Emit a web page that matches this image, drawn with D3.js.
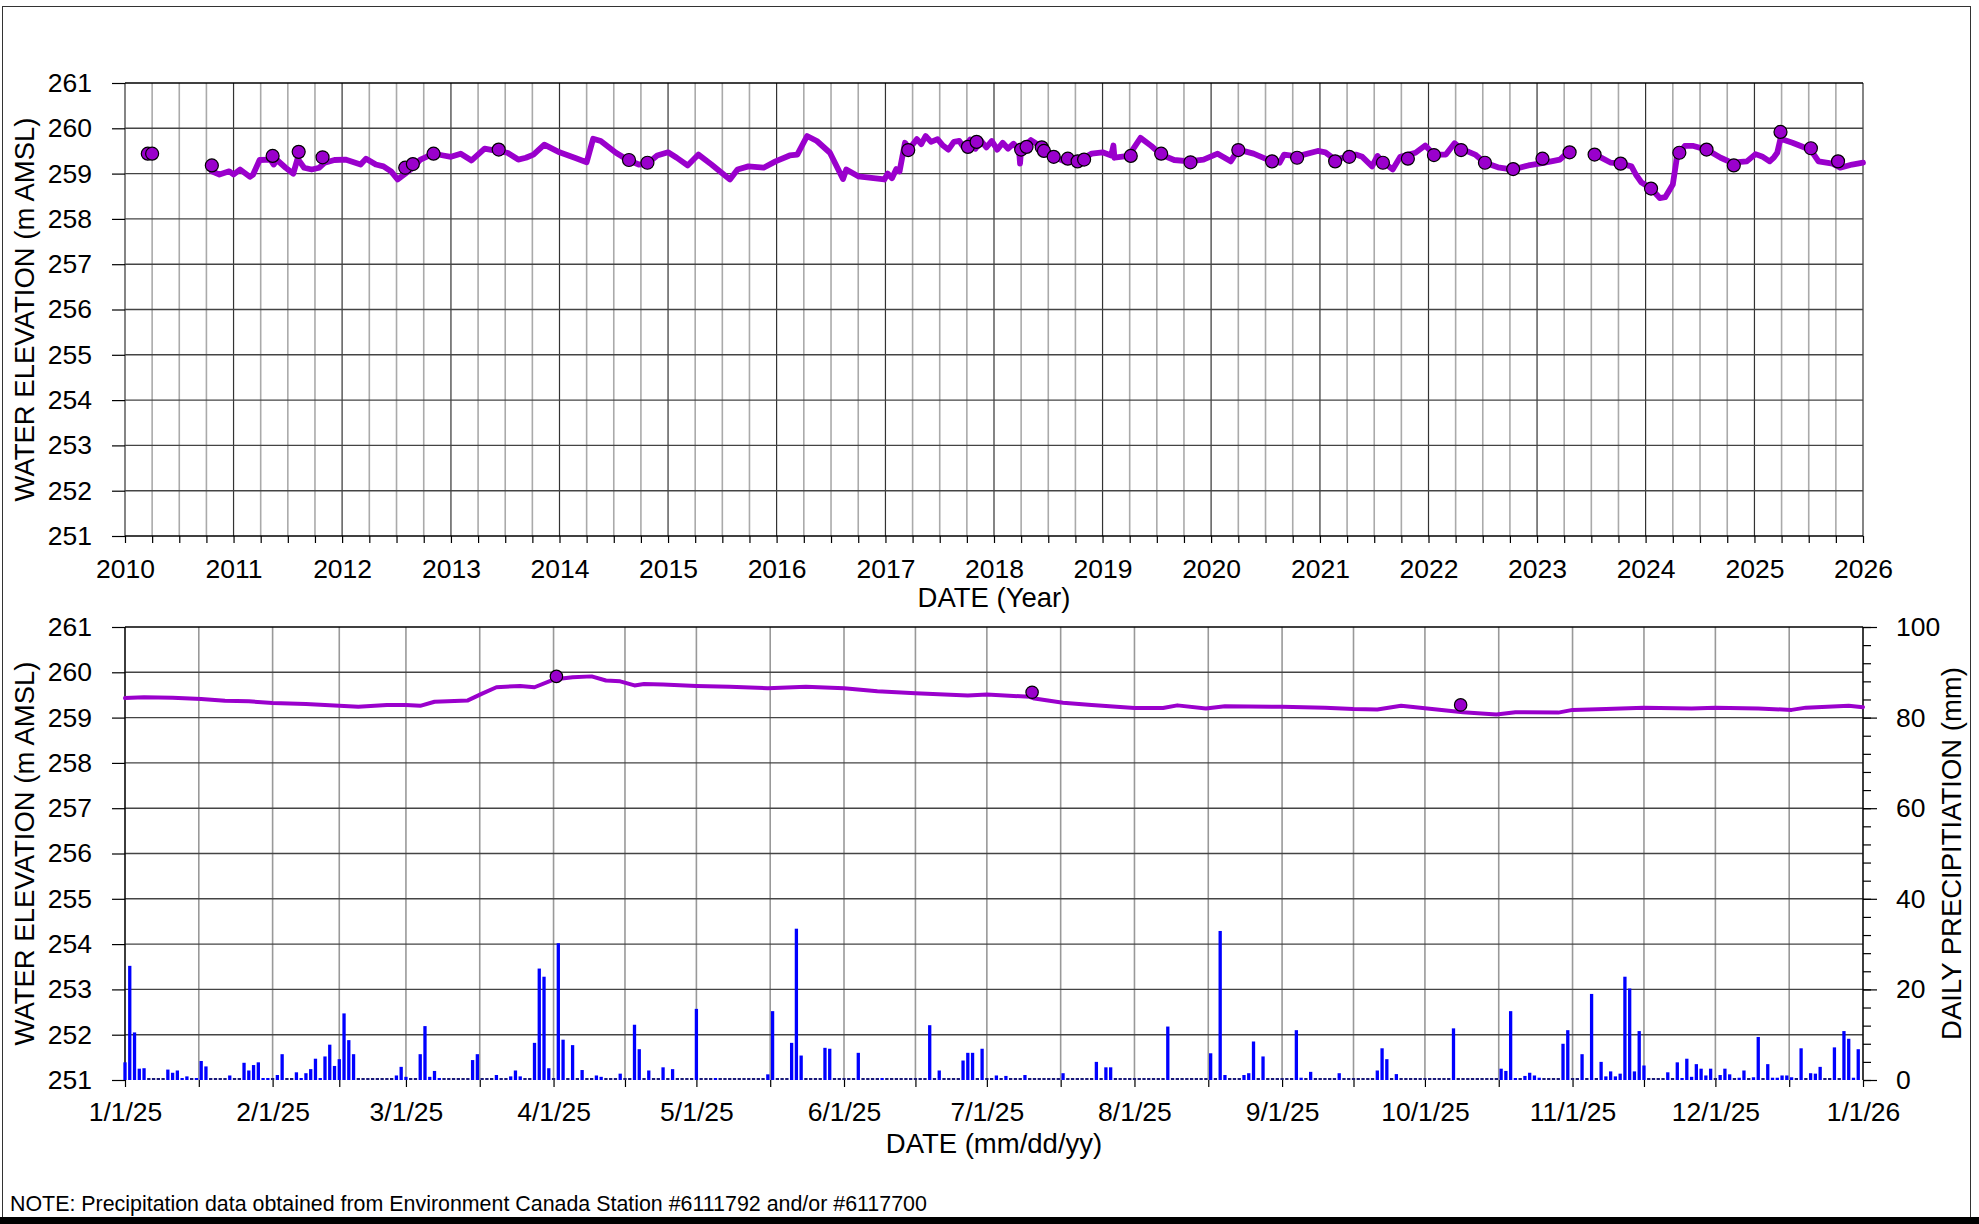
<!DOCTYPE html>
<html>
<head>
<meta charset="utf-8">
<script src="https://d3js.org/d3.v7.min.js"></script>
<style>
body { margin: 0; background: #fff; }
svg { display: block; font-family: "Liberation Sans", Arial, sans-serif; }
</style>
</head>
<body>
<script>
// ---- data ----
// logger water level, long record (decimal year, m AMSL); null = gap in record
var longLevel = [
  [2010.80,259.05],[2010.87,258.98],[2010.96,259.05],[2011.00,258.98],[2011.06,259.09],[2011.15,258.93],
  [2011.18,258.98],[2011.24,259.30],[2011.34,259.31],[2011.37,259.20],[2011.40,259.30],[2011.48,259.13],
  [2011.55,259.00],[2011.59,259.33],[2011.65,259.13],[2011.72,259.09],[2011.79,259.13],[2011.84,259.24],
  [2011.93,259.30],[2012.03,259.31],[2012.17,259.20],[2012.22,259.33],[2012.31,259.20],[2012.38,259.16],
  [2012.45,259.05],[2012.51,258.87],[2012.58,259.00],[2012.65,259.13],[2012.72,259.31],[2012.84,259.44],
  [2012.93,259.40],[2013.00,259.37],[2013.09,259.44],[2013.19,259.29],[2013.31,259.55],[2013.42,259.50],
  [2013.52,259.46],[2013.62,259.31],[2013.69,259.35],[2013.76,259.42],[2013.86,259.64],[2014.00,259.47],
  [2014.14,259.35],[2014.25,259.25],[2014.31,259.77],[2014.38,259.72],[2014.52,259.46],[2014.63,259.30],
  [2014.73,259.20],[2014.81,259.22],[2014.90,259.40],[2015.00,259.47],[2015.08,259.35],[2015.18,259.18],
  [2015.28,259.42],[2015.40,259.20],[2015.57,258.87],[2015.64,259.09],[2015.74,259.16],[2015.88,259.13],
  [2015.99,259.27],[2016.12,259.40],[2016.19,259.42],[2016.28,259.83],[2016.37,259.72],[2016.49,259.46],
  [2016.61,258.88],[2016.64,259.09],[2016.75,258.94],[2016.89,258.90],[2016.99,258.87],[2017.02,259.00],
  [2017.06,258.90],[2017.10,259.10],[2017.13,259.05],[2017.18,259.68],[2017.22,259.55],[2017.29,259.76],
  [2017.33,259.65],[2017.37,259.83],[2017.42,259.70],[2017.48,259.76],[2017.53,259.62],[2017.58,259.53],
  [2017.63,259.70],[2017.68,259.72],[2017.72,259.58],[2017.78,259.75],[2017.83,259.55],[2017.88,259.72],
  [2017.93,259.58],[2017.98,259.72],[2018.03,259.53],[2018.08,259.68],[2018.13,259.55],[2018.18,259.66],
  [2018.23,259.53],[2018.24,259.22],[2018.25,259.55],[2018.34,259.74],[2018.45,259.57],[2018.55,259.37],
  [2018.65,259.27],[2018.77,259.27],[2018.90,259.44],[2019.00,259.47],[2019.08,259.40],[2019.10,259.62],
  [2019.11,259.35],[2019.24,259.39],[2019.35,259.79],[2019.45,259.61],[2019.54,259.42],[2019.66,259.30],
  [2019.80,259.27],[2019.93,259.31],[2020.06,259.44],[2020.18,259.27],[2020.25,259.53],[2020.39,259.44],
  [2020.52,259.31],[2020.63,259.24],[2020.67,259.42],[2020.79,259.38],[2020.98,259.50],[2021.05,259.47],
  [2021.14,259.31],[2021.33,259.42],[2021.39,259.37],[2021.48,259.16],[2021.53,259.39],[2021.58,259.26],
  [2021.67,259.09],[2021.74,259.37],[2021.88,259.46],[2021.97,259.62],[2022.05,259.42],[2022.16,259.42],
  [2022.24,259.67],[2022.30,259.55],[2022.43,259.42],[2022.52,259.24],[2022.64,259.14],[2022.78,259.09],
  [2022.92,259.18],[2023.02,259.22],[2023.13,259.27],[2023.21,259.31],[2023.28,259.46],[2023.30,259.47],
  null,
  [2023.56,259.39],[2023.68,259.24],[2023.77,259.22],[2023.87,259.16],[2023.91,258.98],[2023.96,258.81],
  [2024.05,258.67],[2024.13,258.46],[2024.18,258.48],[2024.25,258.76],[2024.29,259.39],[2024.36,259.61],
  [2024.44,259.61],[2024.56,259.53],[2024.69,259.35],[2024.79,259.24],[2024.93,259.27],[2025.01,259.43],
  [2025.07,259.38],[2025.14,259.27],[2025.18,259.36],[2025.21,259.46],[2025.24,259.77],[2025.35,259.68],
  [2025.52,259.52],[2025.59,259.27],[2025.72,259.22],[2025.79,259.13],[2025.90,259.20],[2026.00,259.24]
];

// manual measurements, long record (decimal year, m AMSL)
var longManual = [
  [2010.21,259.44],[2010.25,259.44],[2010.80,259.18],[2011.36,259.39],[2011.60,259.48],[2011.82,259.36],
  [2012.58,259.13],[2012.65,259.21],[2012.84,259.44],[2013.44,259.53],[2014.64,259.30],[2014.81,259.24],
  [2017.21,259.52],[2017.76,259.59],[2017.84,259.70],[2018.25,259.53],[2018.30,259.59],[2018.44,259.58],
  [2018.46,259.50],[2018.55,259.37],[2018.68,259.33],[2018.77,259.27],[2018.83,259.31],[2019.26,259.39],
  [2019.54,259.44],[2019.81,259.25],[2020.25,259.52],[2020.56,259.27],[2020.79,259.35],[2021.14,259.27],
  [2021.27,259.37],[2021.58,259.24],[2021.81,259.33],[2022.05,259.41],[2022.30,259.52],[2022.52,259.24],
  [2022.78,259.10],[2023.05,259.33],[2023.30,259.47],[2023.53,259.42],[2023.77,259.22],[2024.05,258.67],
  [2024.31,259.46],[2024.56,259.53],[2024.81,259.18],[2025.24,259.92],[2025.52,259.56],[2025.77,259.27]
];

// 2025 logger water level (day of year from Jan 1, m AMSL)
var level2025 = [
  [0,259.43],[4,259.45],[10,259.44],[16,259.41],[21,259.37],[26,259.36],[31,259.32],[38,259.30],
  [45,259.26],[49,259.24],[55,259.28],[59,259.28],[62,259.26],[65,259.35],[72,259.38],[75,259.53],
  [78,259.67],[83,259.70],[86,259.67],[90,259.84],[94,259.89],[98,259.91],[101,259.82],[104,259.80],
  [107,259.71],[109,259.74],[113,259.73],[120,259.70],[127,259.68],[135,259.65],[143,259.68],[151,259.65],
  [158,259.58],[166,259.54],[177,259.49],[181,259.51],[190,259.46],[191,259.42],[197,259.33],[203,259.28],
  [212,259.21],[218,259.21],[221,259.27],[227,259.20],[231,259.25],[243,259.24],[252,259.22],[258,259.19],
  [263,259.18],[268,259.26],[272,259.22],[278,259.15],[281,259.12],[288,259.07],[292,259.12],[301,259.11],
  [304,259.17],[311,259.19],[319,259.22],[329,259.20],[334,259.22],[343,259.20],[350,259.17],[353,259.22],
  [362,259.26],[365,259.23]
];

// 2025 manual measurements (day of year, m AMSL)
var manual2025 = [[90.6,259.91],[190.5,259.56],[280.5,259.28]];

// 2025 daily precipitation, days with rain (day of year, mm); other days are 0
var rainDays = [
  [0,3.9],[1,25.2],[2,10.5],[3,2.5],[4,2.6],[9,2.3],[10,1.6],[11,2.1],[12,0.4],[13,0.8],[15,0.4],[16,4.2],
  [17,3.0],[22,1.0],[25,3.8],[26,2.1],[27,3.3],[28,3.9],[29,0.1],[30,0.4],[32,1.1],[33,5.7],[36,1.7],[37,0.4],
  [38,1.5],[39,2.4],[40,4.7],[41,0.4],[42,5.2],[43,7.8],[44,3.1],[45,4.6],[46,14.7],[47,8.8],[48,5.7],[57,1.0],
  [58,2.9],[59,0.7],[62,5.7],[63,11.9],[64,0.7],[65,2.0],[66,0.4],[73,4.4],[74,5.7],[78,1.1],[81,0.8],[82,2.1],
  [83,0.8],[86,8.2],[87,24.6],[88,22.8],[89,2.6],[91,30.2],[92,8.9],[94,7.7],[96,2.2],[99,1.0],[100,0.7],
  [104,1.4],[107,12.2],[108,6.8],[110,2.1],[113,2.8],[115,2.4],[120,15.7],[124,0.2],[135,1.25],[136,15.2],
  [140,8.2],[141,33.4],[142,5.4],[147,7.1],[148,6.9],[154,6.0],[159,0.3],[169,12.1],[171,2.1],[176,4.3],
  [177,6.0],[178,6.0],[180,6.9],[183,1.0],[185,0.9],[189,1.1],[197,1.5],[204,4.0],[206,2.8],[207,2.8],
  [219,11.8],[228,5.9],[230,32.9],[231,1.1],[235,1.1],[236,1.5],[237,8.5],[239,5.2],[246,11.0],[247,0.5],
  [249,1.8],[255,1.5],[263,2.1],[264,7.0],[265,4.6],[267,1.3],[279,11.4],[289,2.5],[290,2.0],[291,15.2],
  [292,0.3],[294,0.9],[295,1.6],[296,1.0],[297,0.5],[302,8.0],[303,11.0],[306,5.7],[308,19.0],[310,4.0],
  [311,0.8],[312,1.9],[313,0.8],[314,1.4],[315,22.8],[316,20.2],[317,1.9],[318,10.8],[319,3.2],[324,1.7],
  [326,3.9],[327,0.4],[328,4.7],[329,0.7],[330,3.5],[331,2.5],[332,1.0],[333,2.5],[335,1.1],[336,2.5],
  [337,1.25],[339,0.5],[340,2.1],[342,0.6],[343,9.5],[345,3.5],[346,0.5],[347,0.5],[348,1.0],[349,1.0],
  [350,0.6],[352,7.0],[354,1.5],[355,1.4],[356,2.9],[359,7.2],[361,10.8],[362,9.1],[363,0.5],[364,6.8]
];

var elevTicks = [251, 252, 253, 254, 255, 256, 257, 258, 259, 260, 261];
var rainTicks = [0, 20, 40, 60, 80, 100];
var yearTicks = [2010, 2011, 2012, 2013, 2014, 2015, 2016, 2017, 2018, 2019, 2020, 2021, 2022, 2023, 2024, 2025, 2026];
var noteText = "NOTE: Precipitation data obtained from Environment Canada Station #6111792 and/or #6117700";

// ---- layout ----
var W = 1979, H = 1224;
var plotL = 125, plotR = 1863;
var topY0 = 83, topY1 = 536;
var botY0 = 627, botY1 = 1080;
var purple = "#9a00cc";
var tickFont = 26.5;
var titleFont = 27.5;

var decYear = function(y){
    var yr = Math.floor(y);
    var a = Date.UTC(yr, 0, 1), b = Date.UTC(yr + 1, 0, 1);
    return new Date(a + (y - yr) * (b - a));
};
var dayDate = function(d){
    return new Date(Date.UTC(2025, 0, 1) + d * 864e5);
};

var svg = d3.select("body").append("svg")
    .attr("width", W).attr("height", H);

// outer frame
svg.append("rect").attr("x", 2.5).attr("y", 6.5).attr("width", 1968).attr("height", 1212)
    .attr("fill", "none").attr("stroke", "#333").attr("stroke-width", 1);
svg.append("rect").attr("x", 0).attr("y", 1217).attr("width", W).attr("height", 7).attr("fill", "#000");

// ================= top panel =================
var xTop = d3.scaleUtc().domain([decYear(2010), decYear(2026)]).range([plotL, plotR]);
var yTop = d3.scaleLinear().domain([251, 261]).range([topY1, topY0]);

var gTop = svg.append("g");

var quarters = [];
for(var q = 2010; q < 2026; q += 0.25){
    if(q % 1 !== 0){ quarters.push(q); }
}
gTop.selectAll(".qgrid").data(quarters).enter().append("line")
    .attr("x1", function(d){ return xTop(decYear(d)); })
    .attr("x2", function(d){ return xTop(decYear(d)); })
    .attr("y1", topY0).attr("y2", topY1)
    .attr("stroke", "#aaa").attr("stroke-width", 1.6);
gTop.selectAll(".ygrid").data(yearTicks).enter().append("line")
    .attr("x1", function(d){ return xTop(decYear(d)); })
    .attr("x2", function(d){ return xTop(decYear(d)); })
    .attr("y1", topY0).attr("y2", topY1)
    .attr("stroke", "#333").attr("stroke-width", 1.2);
gTop.selectAll(".hgrid").data(elevTicks).enter().append("line")
    .attr("x1", plotL).attr("x2", plotR)
    .attr("y1", function(d){ return yTop(d); })
    .attr("y2", function(d){ return yTop(d); })
    .attr("stroke", function(d){ return (d === 251 || d === 261) ? "#000" : "#444"; })
    .attr("stroke-width", 1.4);

var axTopY = gTop.append("g").attr("transform", "translate(" + plotL + ",0)")
    .call(d3.axisLeft(yTop).tickValues(elevTicks).tickFormat(d3.format("d")).tickSize(13).tickPadding(20));
var axTopXMinor = gTop.append("g").attr("transform", "translate(0," + topY1 + ")")
    .call(d3.axisBottom(xTop).tickValues(quarters.map(decYear)).tickFormat("").tickSize(7));
var axTopX = gTop.append("g").attr("transform", "translate(0," + topY1 + ")")
    .call(d3.axisBottom(xTop).tickValues(yearTicks.map(decYear)).tickFormat(d3.utcFormat("%Y")).tickSize(7).tickPadding(16));

gTop.append("text").attr("x", (plotL + plotR) / 2).attr("y", 607)
    .attr("text-anchor", "middle").attr("font-size", titleFont).text("DATE (Year)");
gTop.append("text").attr("transform", "translate(34," + ((topY0 + topY1) / 2) + ") rotate(-90)")
    .attr("text-anchor", "middle").attr("font-size", titleFont).text("WATER ELEVATION (m AMSL)");

var lineTop = d3.line()
    .defined(function(d){ return d !== null; })
    .x(function(d){ return xTop(decYear(d[0])); })
    .y(function(d){ return yTop(d[1]); });
gTop.append("path").datum(longLevel).attr("d", lineTop)
    .attr("fill", "none").attr("stroke", purple).attr("stroke-width", 5.8)
    .attr("stroke-linejoin", "round").attr("stroke-linecap", "round");
gTop.selectAll(".mdot").data(longManual).enter().append("circle")
    .attr("cx", function(d){ return xTop(decYear(d[0])); })
    .attr("cy", function(d){ return yTop(d[1]); })
    .attr("r", 6.5).attr("fill", purple).attr("stroke", "#000").attr("stroke-width", 1.2);

// ================= bottom panel =================
var xBot = d3.scaleUtc().domain([dayDate(0), dayDate(365)]).range([plotL, plotR]);
var yBot = d3.scaleLinear().domain([251, 261]).range([botY1, botY0]);
var yRain = d3.scaleLinear().domain([0, 100]).range([botY1, botY0]);

var gBot = svg.append("g");

var months = d3.utcMonth.range(dayDate(0), dayDate(366));
var midMonths = [];
for(var m = 0; m < months.length - 1; m++){
    midMonths.push(new Date((+months[m] + +months[m + 1]) / 2));
}
var allMonthLines = months.concat(midMonths);

gBot.selectAll(".vgrid").data(allMonthLines).enter().append("line")
    .attr("x1", function(d){ return xBot(d); })
    .attr("x2", function(d){ return xBot(d); })
    .attr("y1", botY0).attr("y2", botY1)
    .attr("stroke", "#999").attr("stroke-width", 1.6);
gBot.selectAll(".hgrid").data(elevTicks.slice(1)).enter().append("line")
    .attr("x1", plotL).attr("x2", plotR)
    .attr("y1", function(d){ return yBot(d); })
    .attr("y2", function(d){ return yBot(d); })
    .attr("stroke", function(d){ return d === 261 ? "#000" : "#444"; })
    .attr("stroke-width", 1.4);
gBot.append("line").attr("x1", plotL).attr("x2", plotL).attr("y1", botY0).attr("y2", botY1)
    .attr("stroke", "#000").attr("stroke-width", 1.3);
gBot.append("line").attr("x1", plotR).attr("x2", plotR).attr("y1", botY0).attr("y2", botY1)
    .attr("stroke", "#000").attr("stroke-width", 1.3);

var axBotY = gBot.append("g").attr("transform", "translate(" + plotL + ",0)")
    .call(d3.axisLeft(yBot).tickValues(elevTicks).tickFormat(d3.format("d")).tickSize(13).tickPadding(20));
var axBotX = gBot.append("g").attr("transform", "translate(0," + botY1 + ")")
    .call(d3.axisBottom(xBot).tickValues(months).tickFormat(d3.utcFormat("%-m/%-d/%y")).tickSize(7).tickPadding(15.5));
var axBotXMinor = gBot.append("g").attr("transform", "translate(0," + botY1 + ")")
    .call(d3.axisBottom(xBot).tickValues(midMonths).tickFormat("").tickSize(7));
var axRainMinor = gBot.append("g").attr("transform", "translate(" + plotR + ",0)")
    .call(d3.axisRight(yRain).tickValues(d3.range(0, 101, 4)).tickFormat("").tickSize(8));
var axRain = gBot.append("g").attr("transform", "translate(" + plotR + ",0)")
    .call(d3.axisRight(yRain).tickValues(rainTicks).tickFormat(d3.format("d")).tickSize(14).tickPadding(19));

gBot.append("text").attr("x", (plotL + plotR) / 2).attr("y", 1153)
    .attr("text-anchor", "middle").attr("font-size", titleFont).text("DATE (mm/dd/yy)");
gBot.append("text").attr("transform", "translate(34," + ((botY0 + botY1) / 2) + ") rotate(-90)")
    .attr("text-anchor", "middle").attr("font-size", titleFont).text("WATER ELEVATION (m AMSL)");
gBot.append("text").attr("transform", "translate(1961," + ((botY0 + botY1) / 2) + ") rotate(-90)")
    .attr("text-anchor", "middle").attr("font-size", titleFont).text("DAILY PRECIPITIATION (mm)");

// daily rain bars (every day drawn, dry days as a dash on the baseline)
var rainLookup = {};
rainDays.forEach(function(d){ rainLookup[d[0]] = d[1]; });
var daily = d3.range(0, 365).map(function(d){ return {day: d, mm: rainLookup[d] || 0}; });
var barW = 3.3;
gBot.selectAll(".bar").data(daily).enter().append("rect")
    .attr("x", function(d){ return xBot(dayDate(d.day)) - barW / 2; })
    .attr("width", barW)
    .attr("y", function(d){ return Math.min(yRain(d.mm), botY1 - 2); })
    .attr("height", function(d){ return Math.max(2, botY1 - yRain(d.mm)); })
    .attr("fill", function(d){ return d.mm > 0 ? "#0000ff" : "#1a1a7a"; });

var lineBot = d3.line()
    .x(function(d){ return xBot(dayDate(d[0])); })
    .y(function(d){ return yBot(d[1]); });
gBot.append("path").datum(level2025).attr("d", lineBot)
    .attr("fill", "none").attr("stroke", purple).attr("stroke-width", 4)
    .attr("stroke-linejoin", "round").attr("stroke-linecap", "round");
gBot.selectAll(".mdot").data(manual2025).enter().append("circle")
    .attr("cx", function(d){ return xBot(dayDate(d[0])); })
    .attr("cy", function(d){ return yBot(d[1]); })
    .attr("r", 6.2).attr("fill", purple).attr("stroke", "#000").attr("stroke-width", 1.2);

// axis styling
svg.selectAll(".domain").remove();
svg.selectAll(".tick line").attr("stroke", "#000").attr("stroke-width", 1.2);
svg.selectAll(".tick text").attr("font-size", tickFont).attr("font-family", "Liberation Sans, Arial, sans-serif").attr("fill", "#000");

svg.append("text").attr("x", 10).attr("y", 1211).attr("font-size", 21.4).text(noteText);
</script>
</body>
</html>
